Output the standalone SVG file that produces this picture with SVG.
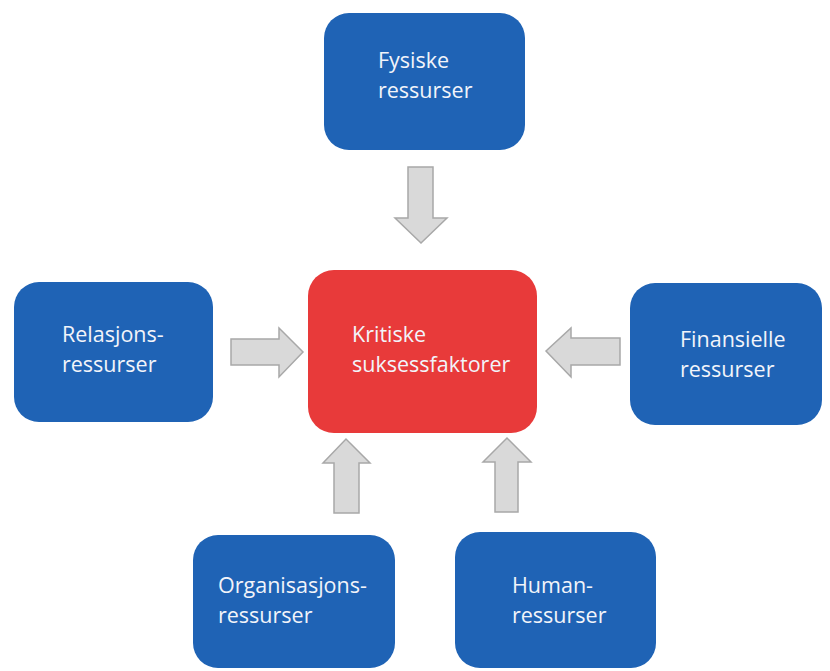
<svg xmlns="http://www.w3.org/2000/svg" width="830" height="671" viewBox="0 0 830 671">
<style>
.box{fill:#1F63B5;}
.core{fill:#E83A3A;}
.lbl{font-family:"Open Sans","Liberation Sans",sans-serif;font-size:21.5px;fill:#F2F4FA;}
.arr{fill:#D9D9D9;stroke:#A8A8A8;stroke-width:1.5;stroke-linejoin:miter;}
</style>
<rect x="0" y="0" width="830" height="671" fill="#FFFFFF"/>
<g id="connectors">
<polygon class="arr" points="408,167 433,167 433,218 447,218 421,243 395,218 408,218"/>
<polygon class="arr" points="231,339 279,339 279,328 303,352 279,377 279,365 231,365"/>
<polygon class="arr" points="620,338 571,338 571,328 546,351 571,377 571,365 620,365"/>
<polygon class="arr" points="334,513 334,463 323,463 346,439 370,463 359,463 359,513"/>
<polygon class="arr" points="495,512 495,462 483,462 507,438 531,462 518,462 518,512"/>
</g>
<g id="node-fysiske">
<rect class="box" x="324" y="13" width="201" height="137" rx="25"/>
<text class="lbl" x="378" y="68">Fysiske</text>
<text class="lbl" x="378" y="98">ressurser</text>
</g>
<g id="node-relasjons">
<rect class="box" x="14" y="282" width="199" height="140" rx="25"/>
<text class="lbl" x="62" y="342">Relasjons-</text>
<text class="lbl" x="62" y="372">ressurser</text>
</g>
<g id="node-kritiske">
<rect class="core" x="308" y="270" width="229" height="163" rx="26"/>
<text class="lbl" x="352" y="342">Kritiske</text>
<text class="lbl" x="352" y="372">suksessfaktorer</text>
</g>
<g id="node-finansielle">
<rect class="box" x="630" y="283" width="192" height="142" rx="25"/>
<text class="lbl" x="680" y="347">Finansielle</text>
<text class="lbl" x="680" y="377">ressurser</text>
</g>
<g id="node-organisasjons">
<rect class="box" x="193" y="535" width="202" height="133" rx="25"/>
<text class="lbl" x="218" y="593">Organisasjons-</text>
<text class="lbl" x="218" y="623">ressurser</text>
</g>
<g id="node-human">
<rect class="box" x="455" y="532" width="201" height="136" rx="25"/>
<text class="lbl" x="512" y="593">Human-</text>
<text class="lbl" x="512" y="623">ressurser</text>
</g>
</svg>
